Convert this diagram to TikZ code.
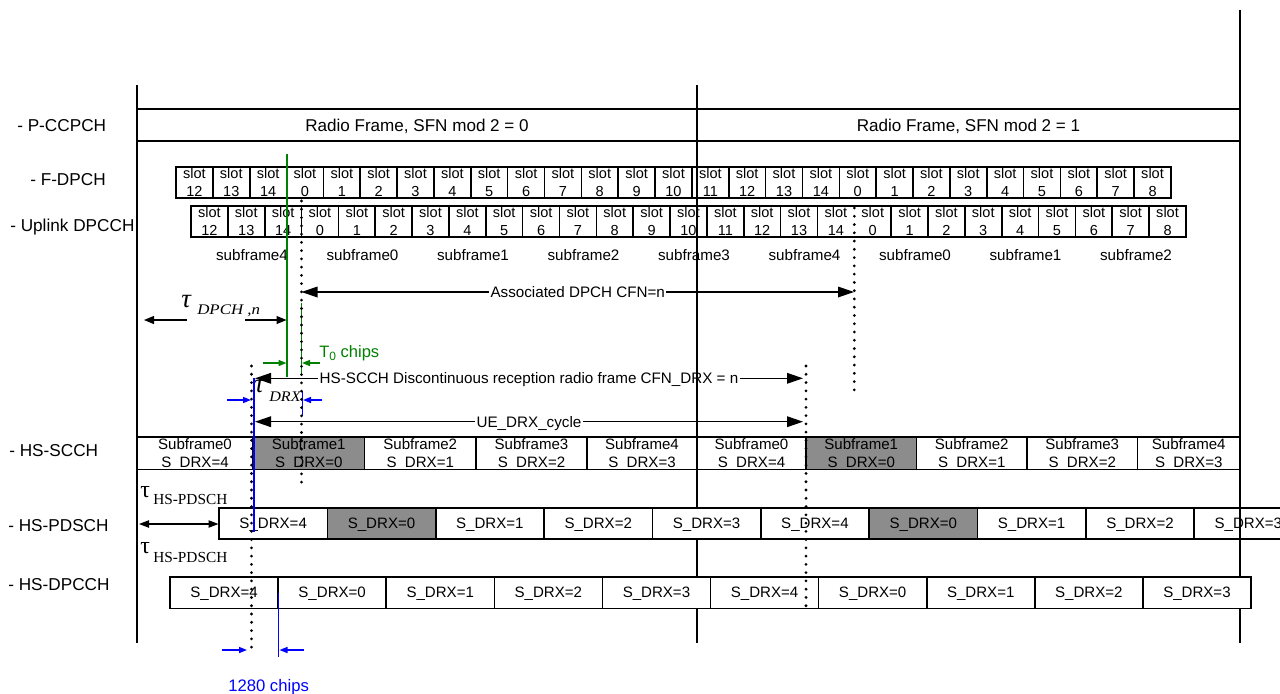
\documentclass[tikz,border=0pt]{standalone}
\usepackage{fontspec}
\usepackage{graphicx}
\setmainfont{Liberation Sans}
\newfontfamily\serifgr{Liberation Serif}
\usetikzlibrary{arrows.meta,fit,calc}
\definecolor{dgreen}{RGB}{0,128,0}
\definecolor{dblue}{RGB}{0,0,255}
\definecolor{boxgray}{RGB}{140,140,140}
\newcommand\myfs[1]{\fontsize{#1pt}{#1pt}\selectfont}
\begin{document}
\begin{tikzpicture}[x=0.75pt,y=-0.75pt,
  cell/.style={draw, line width=1.2pt, inner sep=0pt},
  txt/.style={inner sep=0pt, anchor=base},
  rowlab/.style={inner sep=0pt, anchor=base west, font=\myfs{12.9}},
  slottxt/.style={txt, font=\myfs{10.9}},
  boxtxt/.style={txt, font=\myfs{11.3}},
  frameline/.style={line width=1.2pt},
  dotline/.style={line width=2.3pt, dash pattern=on 0pt off 6.2pt, line cap=round},
  bigarrow/.style={line width=0.9pt, {Triangle[length=12pt,width=8pt]}-{Triangle[length=12pt,width=8pt]}},
  midhead/.style={line width=0.9pt, -{Triangle[length=7.5pt,width=6pt]}},
  gline/.style={dgreen, line width=1.1pt},
  bline/.style={dblue, line width=1.1pt},
  garrow/.style={dgreen, line width=1.1pt, -{Triangle[length=6pt,width=4.5pt]}},
  barrow/.style={dblue, line width=1.1pt, -{Triangle[length=6pt,width=4.5pt]}},
  midlabel/.style={fill=white, inner sep=1pt, text depth=0pt, font=\myfs{11.4}},
]
\useasboundingbox (0,0) rectangle (1280,693);
\clip (0,0) rectangle (1280,693);

% ---- tau labels (under arrows)
\node[txt, anchor=base west, font=\serifgr\itshape\myfs{20}] (tauD) at (181,307.7) {τ};
\node[txt, anchor=base west, font=\serifgr\itshape\myfs{11}] (tauDs) at (197,314.3) {\scalebox{1.15}[1]{DPCH ,n}};
\node[txt, anchor=base west, font=\serifgr\itshape\myfs{20}] (tauX) at (254,392) {τ};
\node[txt, anchor=base west, font=\serifgr\itshape\myfs{11}] (tauXs) at (269,401.7) {\scalebox{1.1}[1]{DRX}};

% ---- black arrows
\coordinate (asL) at (301.5,292); \coordinate (asR) at (854,292);
\draw[bigarrow] (asL) -- node[midlabel] (asT) {Associated DPCH CFN=n} (asR);
\coordinate (hsL) at (255,378.3); \coordinate (hsR) at (803,378.3);
\draw[bigarrow] (hsL) -- node[midlabel] (hsT) {HS-SCCH Discontinuous reception radio frame CFN\_DRX = n} (hsR);
\coordinate (ueL) at (255,421.7); \coordinate (ueR) at (803,421.7);
\draw[bigarrow] (ueL) -- node[midlabel] (ueT) {UE\_DRX\_cycle} (ueR);
\coordinate (tdL1) at (186.7,320); \coordinate (tdL2) at (144,320);
\coordinate (tdR1) at (245,320); \coordinate (tdR2) at (286.5,320);
\draw[midhead] (tdL1) -- (tdL2);
\draw[midhead] (tdR1) -- (tdR2);

% ---- frame lines
\coordinate (fL1) at (137,85); \coordinate (fL2) at (137,643);
\coordinate (fM1) at (697,85); \coordinate (fM2) at (697,643);
\coordinate (fR1) at (1240,10); \coordinate (fR2) at (1240,643);
\draw[frameline] (fL1) -- (fL2);
\draw[frameline] (fM1) -- (fM2);
\draw[frameline] (fR1) -- (fR2);

% ---- row labels
\node[rowlab] (l1) at (17,131) {- P-CCPCH};
\node[rowlab] (l2) at (30,185) {- F-DPCH};
\node[rowlab] (l3) at (10,231.5) {- Uplink DPCCH};
\node[rowlab] (l4) at (9,456) {- HS-SCCH};
\node[rowlab] (l5) at (8,531) {- HS-PDSCH};
\node[rowlab] (l6) at (8,590) {- HS-DPCCH};

% ---- P-CCPCH
\node[cell, fit={(137,109) (697,141)}] (pc1) {};
\node[cell, fit={(697,109) (1240,141)}] (pc2) {};
\node[txt, font=\myfs{12.8}] (pct1) at (417,131) {Radio Frame, SFN mod 2 = 0};
\node[txt, font=\myfs{12.8}] (pct2) at (968.5,131) {Radio Frame, SFN mod 2 = 1};

% ---- slots
\foreach \sn [count=\i from 0] in {12,13,14,0,1,2,3,4,5,6,7,8,9,10,11,12,13,14,0,1,2,3,4,5,6,7,8}{
  \pgfmathsetmacro\xa{176+36.85*\i}
  \pgfmathsetmacro\xb{\xa+36.85}
  \pgfmathsetmacro\xm{\xa+18.425}
  \node[cell, fit={(\xa,167) (\xb,198)}] (fd\i) {};
  \node[slottxt] (fds\i) at (\xm,178.3) {slot};
  \node[slottxt] (fdn\i) at (\xm,196) {\sn};
  \pgfmathsetmacro\ya{191+36.85*\i}
  \pgfmathsetmacro\yb{\ya+36.85}
  \pgfmathsetmacro\ym{\ya+18.425}
  \node[cell, fit={(\ya,206) (\yb,237)}] (ul\i) {};
  \node[slottxt] (uls\i) at (\ym,217.3) {slot};
  \node[slottxt] (uln\i) at (\ym,235) {\sn};
}
\draw[white, line width=1.7pt] ($(ul18.north west)+(0,2)$) -- ($(ul18.south west)+(0,-2)$);

% ---- subframe labels
\foreach \sfn/\xc [count=\i] in {4/252,0/362.5,1/473,2/583.5,3/694,4/804.5,0/915,1/1025.5,2/1136}{
  \node[txt, font=\myfs{11.4}] (sfl\i) at (\xc,260) {subframe\sfn};
}

% ---- HS-SCCH
\foreach \xl/\xr/\sfn/\sdn/\fc [count=\i] in {137/253/0/4/white, 253/364.5/1/0/boxgray, 364.5/476/2/1/white, 476/587/3/2/white, 587/697/4/3/white, 697/806/0/4/white, 806/916.5/1/0/boxgray, 916.5/1027/2/1/white, 1027/1137.5/3/2/white, 1137.5/1240/4/3/white}{
  \pgfmathsetmacro\xm{(\xl+\xr)/2}
  \node[cell, fill=\fc, fit={(\xl,436.7) (\xr,469.3)}] (sc\i) {};
  \node[boxtxt] (sct\i) at (\xm,449.5) {Subframe\sfn};
  \node[boxtxt] (scd\i) at (\xm,467.5) {S\_DRX=\sdn};
}

% ---- HS-PDSCH
\foreach \sdn/\fc [count=\i from 0] in {4/white,0/boxgray,1/white,2/white,3/white,4/white,0/boxgray,1/white,2/white,3/none}{
  \pgfmathsetmacro\xa{219+108.35*\i}
  \pgfmathsetmacro\xb{\xa+108.35}
  \pgfmathsetmacro\xm{\xa+54.175}
  \node[cell, fill=\fc, fit={(\xa,507.7) (\xb,539)}] (pd\i) {};
  \node[boxtxt] (pdt\i) at (\xm,528.3) {S\_DRX=\sdn};
}

% ---- HS-DPCCH
\foreach \sdn [count=\i from 0] in {4,0,1,2,3,4,0,1,2,3}{
  \pgfmathsetmacro\xa{170+108.1*\i}
  \pgfmathsetmacro\xb{\xa+108.1}
  \pgfmathsetmacro\xm{\xa+54.05}
  \node[cell, fill=white, fit={(\xa,576.7) (\xb,608.3)}] (dp\i) {};
  \node[boxtxt] (dpt\i) at (\xm,597.5) {S\_DRX=\sdn};
}

% ---- tau HS-PDSCH
\node[txt, anchor=base west, font=\serifgr\myfs{18}] (tauP1) at (140,497) {τ};
\node[txt, anchor=base west, font=\serifgr\myfs{11.5}] (tauP1s) at (153,504) {HS-PDSCH};
\node[txt, anchor=base west, font=\serifgr\myfs{18}] (tauP2) at (140,553) {τ};
\node[txt, anchor=base west, font=\serifgr\myfs{11.5}] (tauP2s) at (153,562) {HS-PDSCH};
\coordinate (pdL) at (139,524); \coordinate (pdR) at (218.5,524);
\draw[line width=0.9pt, {Triangle[length=7.5pt,width=5.5pt]}-{Triangle[length=7.5pt,width=5.5pt]}] (pdL) -- (pdR);

% ---- green
\coordinate (g1a) at (287,154); \coordinate (g1b) at (287,377);
\coordinate (g2a) at (301.5,303); \coordinate (g2b) at (301.5,375);
\draw[gline] (g1a) -- (g1b);
\draw[gline] (g2a) -- (g2b);
\coordinate (ga1) at (262.7,363); \coordinate (ga2) at (286.5,363);
\coordinate (ga3) at (320,363); \coordinate (ga4) at (302,363);
\draw[garrow] (ga1) -- (ga2);
\draw[garrow] (ga3) -- (ga4);
\node[txt, anchor=base west, text=dgreen, font=\myfs{12.4}] (t0) at (319,357) {T\raisebox{-2.5pt}{\myfs{9}0} chips};

% ---- blue
\coordinate (b1a) at (254,378); \coordinate (b1b) at (254,532);
\coordinate (b2a) at (302.3,391); \coordinate (b2b) at (302.3,416);
\coordinate (b3a) at (278.3,593); \coordinate (b3b) at (278.3,657);
\draw[bline] (b1a) -- (b1b);
\draw[bline] (b2a) -- (b2b);
\draw[bline] (b3a) -- (b3b);
\coordinate (ba1) at (227,400); \coordinate (ba2) at (251,400);
\coordinate (ba3) at (322,400); \coordinate (ba4) at (303,400);
\coordinate (ba5) at (221.7,650); \coordinate (ba6) at (247,650);
\coordinate (ba7) at (304,650); \coordinate (ba8) at (279.5,650);
\draw[barrow] (ba1) -- (ba2);
\draw[barrow] (ba3) -- (ba4);
\draw[barrow] (ba5) -- (ba6);
\draw[barrow] (ba7) -- (ba8);
\node[txt, anchor=base west, text=dblue, font=\myfs{12.5}] (chips) at (228,691.7) {1280 chips};

% ---- dotted lines
\coordinate (dA1) at (301.5,201); \coordinate (dA2) at (301.5,488);
\coordinate (dB1) at (854.3,208); \coordinate (dB2) at (854.3,393);
\coordinate (dC1) at (251.5,366); \coordinate (dC2) at (251.5,649);
\coordinate (dD1) at (806,366); \coordinate (dD2) at (806,606);
\draw[dotline] (dA1) -- (dA2);
\draw[dotline] (dB1) -- (dB2);
\draw[dotline] (dC1) -- (dC2);
\draw[dotline] (dD1) -- (dD2);
\end{tikzpicture}
\end{document}
